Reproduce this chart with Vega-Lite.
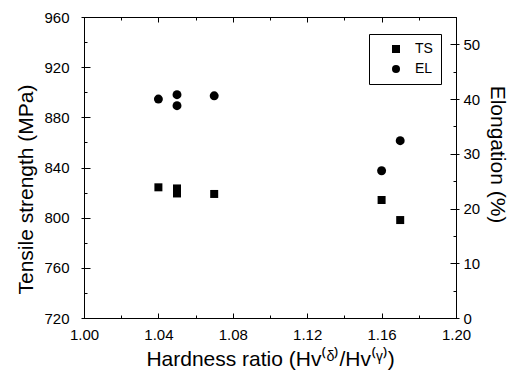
{
  "$schema": "https://vega.github.io/schema/vega-lite/v6.json",
  "width": 372,
  "height": 301,
  "autosize": {"type": "none"},
  "padding": {"left": 84, "top": 17, "right": 66, "bottom": 63},
  "background": "white",
  "config": {
    "font": "Liberation Sans",
    "view": {"stroke": "black", "strokeWidth": 1},
    "axis": {
      "domainColor": "black", "tickColor": "black", "labelColor": "black", "titleColor": "black",
      "labelFont": "Liberation Sans", "titleFont": "Liberation Sans",
      "labelFontSize": 15, "titleFontSize": 21, "titleFontWeight": "normal", "grid": false,
      "tickWidth": 1, "domainWidth": 1
    },
    "legend": {"labelFont": "Liberation Sans"}
  },
  "data": {
    "values": [
      {"ratio": 1.04, "value": 824.2, "series": "TS"},
      {"ratio": 1.05, "value": 823.3, "series": "TS"},
      {"ratio": 1.05, "value": 819.3, "series": "TS"},
      {"ratio": 1.07, "value": 818.9, "series": "TS"},
      {"ratio": 1.16, "value": 814.1, "series": "TS"},
      {"ratio": 1.17, "value": 798.1, "series": "TS"},
      {"ratio": 1.04, "value": 40.0, "series": "EL"},
      {"ratio": 1.05, "value": 40.8, "series": "EL"},
      {"ratio": 1.05, "value": 38.8, "series": "EL"},
      {"ratio": 1.07, "value": 40.6, "series": "EL"},
      {"ratio": 1.16, "value": 26.9, "series": "EL"},
      {"ratio": 1.17, "value": 32.4, "series": "EL"}
    ]
  },
  "layer": [
    {
      "transform": [{"filter": "datum.series === 'TS'"}],
      "mark": {"type": "point", "filled": true, "opacity": 1, "size": 64},
      "encoding": {
        "x": {
          "field": "ratio", "type": "quantitative",
          "scale": {"domain": [1.0, 1.2], "nice": false, "zero": false},
          "axis": {
            "orient": "bottom", "title": "Hardness ratio (Hv⁽ᵟ⁾/Hv⁽ᵞ⁾)",
            "values": [1.0, 1.02, 1.04, 1.06, 1.08, 1.1, 1.12, 1.14, 1.16, 1.18, 1.2],
            "tickSize": {"condition": {"test": "abs(round(datum.value*100)) % 4 === 0", "value": -5}, "value": -3},
            "labelExpr": "abs(round(datum.value*100)) % 4 === 0 ? format(datum.value, '.2f') : ''",
            "labelPadding": 14, "titlePadding": 4, "labelFlush": false, "labelOverlap": false
          }
        },
        "y": {
          "field": "value", "type": "quantitative",
          "scale": {"domain": [720, 960], "nice": false, "zero": false},
          "axis": {
            "orient": "left", "title": "Tensile strength (MPa)",
            "values": [720, 760, 800, 840, 880, 920, 960],
            "tickSize": 3, "labelPadding": 12, "format": "d",
            "titleAngle": -90, "titleX": -52, "titleY": 172, "titleBaseline": "alphabetic", "titleAlign": "center"
          }
        },
        "shape": {
          "field": "series", "type": "nominal",
          "scale": {"domain": ["TS", "EL"], "range": ["square", "circle"]},
          "legend": {
            "orient": "none", "legendX": 285, "legendY": 17, "title": null,
            "strokeColor": "black", "fillColor": "white", "padding": 8,
            "symbolOffset": 12, "labelOffset": 12, "labelFontSize": 14, "labelColor": "black",
            "symbolSize": 64, "symbolFillColor": "black", "symbolStrokeColor": "black", "symbolType": "circle",
            "rowPadding": 6
          }
        },
        "color": {"value": "black"}
      }
    },
    {
      "transform": [{"filter": "datum.series === 'TS'"}],
      "mark": {"type": "point", "filled": true, "opacity": 0},
      "encoding": {
        "x": {"field": "ratio", "type": "quantitative", "scale": {"domain": [1.0, 1.2], "nice": false, "zero": false}, "axis": null},
        "y": {
          "field": "value", "type": "quantitative",
          "scale": {"domain": [720, 960], "nice": false, "zero": false},
          "axis": {
            "orient": "left", "title": null, "labels": false, "domain": false,
            "values": [720, 740, 760, 780, 800, 820, 840, 860, 880, 900, 920, 940, 960],
            "tickSize": {"condition": {"test": "datum.value % 40 === 0", "value": -6}, "value": -3}
          }
        }
      }
    },
    {
      "transform": [{"filter": "datum.series === 'EL'"}],
      "mark": {"type": "point", "filled": true, "opacity": 1, "size": 80},
      "encoding": {
        "x": {
          "field": "ratio", "type": "quantitative",
          "scale": {"domain": [1.0, 1.2], "nice": false, "zero": false},
          "axis": {
            "orient": "top", "title": null, "labels": false,
            "values": [1.0, 1.02, 1.04, 1.06, 1.08, 1.1, 1.12, 1.14, 1.16, 1.18, 1.2],
            "tickSize": {"condition": {"test": "abs(round(datum.value*100)) % 4 === 0", "value": -5}, "value": -3}
          }
        },
        "y": {
          "field": "value", "type": "quantitative",
          "scale": {"domain": [0, 55], "nice": false, "zero": false},
          "axis": {
            "orient": "right", "title": "Elongation (%)",
            "values": [0, 10, 20, 30, 40, 50],
            "tickSize": 3, "labelPadding": 4, "format": "d",
            "titleAngle": 90, "titleX": 34, "titleY": 137, "titleBaseline": "alphabetic", "titleAlign": "center"
          }
        },
        "shape": {"field": "series", "type": "nominal", "scale": {"domain": ["TS", "EL"], "range": ["square", "circle"]}},
        "color": {"value": "black"}
      }
    },
    {
      "transform": [{"filter": "datum.series === 'EL'"}],
      "mark": {"type": "point", "filled": true, "opacity": 0},
      "encoding": {
        "x": {"field": "ratio", "type": "quantitative", "scale": {"domain": [1.0, 1.2], "nice": false, "zero": false}, "axis": null},
        "y": {
          "field": "value", "type": "quantitative",
          "scale": {"domain": [0, 55], "nice": false, "zero": false},
          "axis": {
            "orient": "right", "title": null, "labels": false, "domain": false,
            "values": [0, 5, 10, 15, 20, 25, 30, 35, 40, 45, 50, 55],
            "tickSize": {"condition": {"test": "datum.value % 10 === 0", "value": -6}, "value": -3}
          }
        }
      }
    }
  ],
  "resolve": {"scale": {"y": "independent"}, "axis": {"x": "independent", "y": "independent"}}
}
